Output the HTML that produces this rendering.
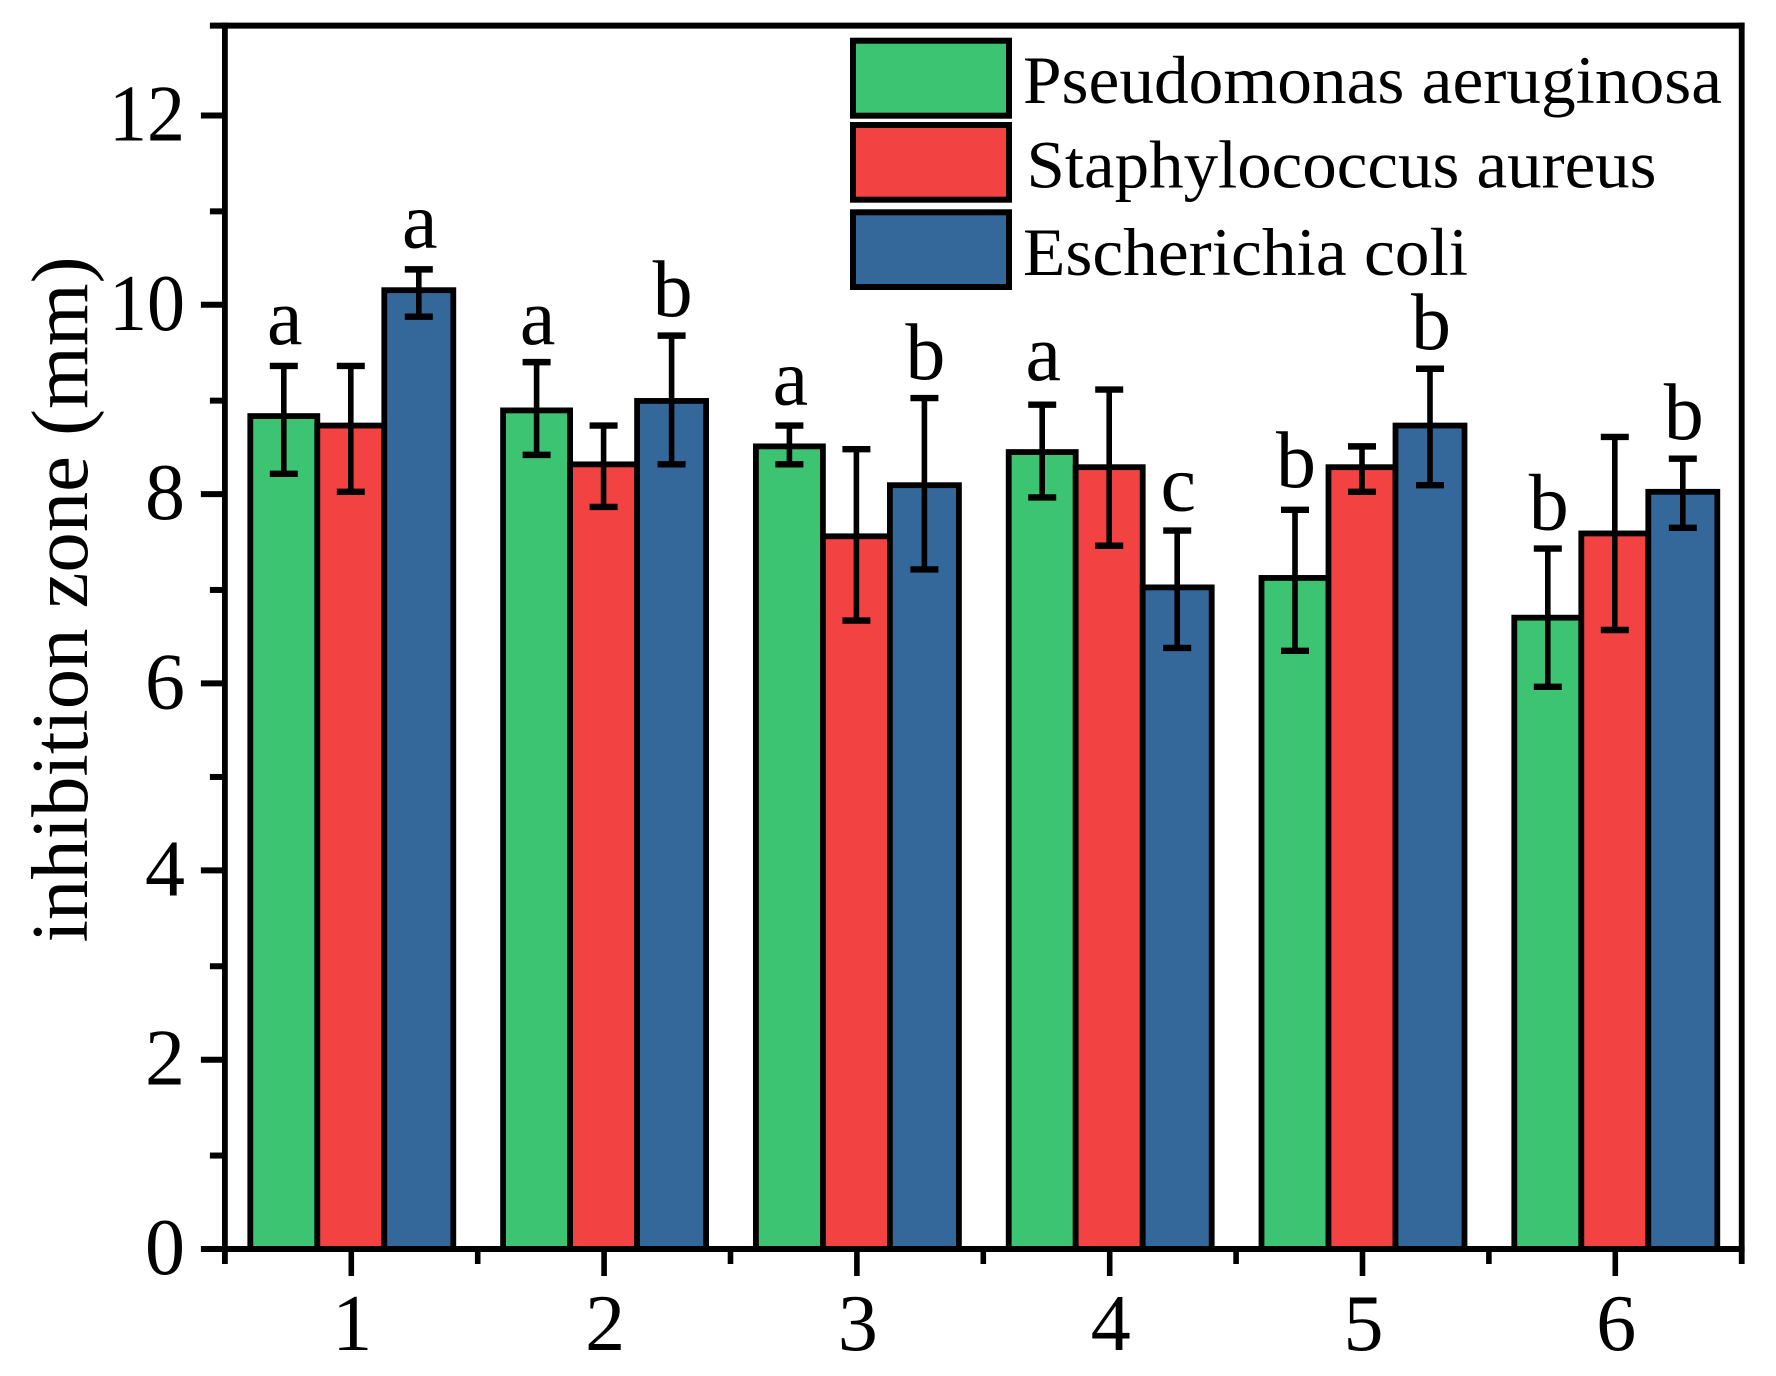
<!DOCTYPE html>
<html lang="en">
<head>
<meta charset="utf-8">
<title>Inhibition zone bar chart</title>
<style>
html,body{margin:0;padding:0;background:#fff;}
svg{display:block;}
text{font-family:"Liberation Serif",serif;fill:#000;}
</style>
</head>
<body>
<svg id="chart" xmlns="http://www.w3.org/2000/svg" width="1776" height="1376" viewBox="0 0 1776 1376">
  <rect x="0" y="0" width="1776" height="1376" fill="#fff"/>
  <g id="bars"></g>
  <g id="errors"></g>
  <g id="letters"></g>
  <g id="axes"></g>
  <text transform="translate(87,942.5) rotate(-90)" font-size="80" textLength="686" lengthAdjust="spacingAndGlyphs">inhibition zone (mm)</text>
  <g>
    <rect x="853" y="40.7" width="156" height="75" fill="#3CC472" stroke="#000" stroke-width="6"/>
    <text x="1023" y="103" font-size="68" textLength="699" lengthAdjust="spacingAndGlyphs">Pseudomonas aeruginosa</text>
    <rect x="853" y="125" width="156" height="74.700" fill="#F24242" stroke="#000" stroke-width="6"/>
    <text x="1026.500" y="187.700" font-size="68" textLength="630" lengthAdjust="spacingAndGlyphs">Staphylococcus aureus</text>
    <rect x="853" y="212.300" width="156" height="74.700" fill="#34689A" stroke="#000" stroke-width="6"/>
    <text x="1023" y="275" font-size="68" textLength="445" lengthAdjust="spacingAndGlyphs">Escherichia coli</text>
  </g>
</svg>
<script>
const categories = ['1', '2', '3', '4', '5', '6'];
const yTickLabels = [0, 2, 4, 6, 8, 10, 12];
const yMinorTicks = [1, 3, 5, 7, 9, 11];
const seriesNames = ['pseudomonas', 'staphylococcus', 'escherichia'];
const seriesColors = ['#3CC472', '#F24242', '#34689A'];

const pseudomonasValues = [8.80, 8.86, 8.48, 8.42, 7.09, 6.67];
const staphylococcusValues = [8.70, 8.29, 7.53, 8.26, 8.26, 7.56];
const escherichiaValues = [10.13, 8.96, 8.07, 6.99, 8.70, 8.00];

const pseudomonasUpper = [9.33, 9.37, 8.70, 8.92, 7.81, 7.40];
const staphylococcusUpper = [9.33, 8.70, 8.45, 9.08, 8.48, 8.58];
const escherichiaUpper = [10.35, 9.65, 8.99, 7.59, 9.30, 8.35];

const pseudomonasLower = [8.19, 8.39, 8.29, 7.94, 6.32, 5.94];
const staphylococcusLower = [8.00, 7.84, 6.64, 7.43, 8.00, 6.54];
const escherichiaLower = [9.85, 8.29, 7.18, 6.35, 8.07, 7.62];

const pseudomonasLetters = ['a', 'a', 'a', 'a', 'b', 'b'];
const escherichiaLetters = ['a', 'b', 'b', 'c', 'b', 'b'];
const pseudomonasLetterHeights = [9.56, 9.56, 8.92, 9.18, 8.05, 7.60];
const escherichiaLetterHeights = [10.58, 9.86, 9.19, 7.80, 9.51, 8.56];

const seriesValues = [pseudomonasValues, staphylococcusValues, escherichiaValues];
const seriesUpper = [pseudomonasUpper, staphylococcusUpper, escherichiaUpper];
const seriesLower = [pseudomonasLower, staphylococcusLower, escherichiaLower];

const NS = 'http://www.w3.org/2000/svg';
function xScale(v) { return 351.3 + 252.8 * (v - 1); }
function yScale(v) { return 1249 - 94.65 * v; }
function tickY(v) { return yScale(v) + (v > 5 ? 2.3 : 0); }
const yTopValue = 12.925;
const barEdges = [-101, -34, 33, 102];

function make(parent, tag, attrs, content) {
  const node = document.createElementNS(NS, tag);
  for (const key in attrs) node.setAttribute(key, attrs[key]);
  if (content !== undefined) node.textContent = content;
  parent.appendChild(node);
  return node;
}
function drawLine(parent, x1, y1, x2, y2, w) {
  return make(parent, 'line', { x1: x1, y1: y1, x2: x2, y2: y2, stroke: '#000', 'stroke-width': w });
}

const barsGroup = document.getElementById('bars');
const errorsGroup = document.getElementById('errors');
const lettersGroup = document.getElementById('letters');
const axesGroup = document.getElementById('axes');

seriesValues.forEach(function (values, s) {
  values.forEach(function (v, i) {
    const cx = xScale(i + 1);
    const left = cx + barEdges[s];
    const right = cx + barEdges[s + 1];
    const bar = make(barsGroup, 'rect', {
      x: left, y: yScale(v), width: right - left, height: yScale(0) - yScale(v),
      fill: seriesColors[s], stroke: '#000', 'stroke-width': 5.8
    });
    
    
  });
});

seriesValues.forEach(function (values, s) {
  values.forEach(function (v, i) {
    const cx = xScale(i + 1);
    const mid = cx + (barEdges[s] + barEdges[s + 1]) / 2;
    const up = yScale(seriesUpper[s][i]);
    const low = yScale(seriesLower[s][i]);
    const g = make(errorsGroup, 'g', {});
    
    
    drawLine(g, mid, up, mid, low, 5.6);
    drawLine(g, mid - 14, up, mid + 14, up, 6.4);
    drawLine(g, mid - 14, low, mid + 14, low, 6.4);
  });
});

function drawLetters(letters, heights, s) {
  letters.forEach(function (ch, i) {
    const cx = xScale(i + 1);
    const mid = cx + (barEdges[s] + barEdges[s + 1]) / 2;
    const t = make(lettersGroup, 'text', {
      x: mid + 1, y: yScale(heights[i]), 'font-size': 80, 'text-anchor': 'middle'
    }, ch);
    
    
  });
}
drawLetters(pseudomonasLetters, pseudomonasLetterHeights, 0);
drawLetters(escherichiaLetters, escherichiaLetterHeights, 2);

const axisLeft = xScale(0.5);
const axisRight = xScale(6.5);
const axisBottom = yScale(0);
const axisTop = yScale(yTopValue);

const frame = make(axesGroup, 'g', {});


drawLine(frame, axisLeft, axisTop - 3, axisLeft, axisBottom + 15, 5.8);
drawLine(frame, axisRight, axisTop - 3, axisRight, axisBottom + 15, 5.8);
drawLine(frame, axisLeft - 15, axisTop, axisRight + 2.9, axisTop, 6);
drawLine(frame, axisLeft - 24, axisBottom, axisRight + 2.9, axisBottom, 6);

yTickLabels.forEach(function (v) {
  if (v !== 0) {
    const tick = drawLine(axesGroup, axisLeft - 24, tickY(v), axisLeft, tickY(v), 6);
    
    
  }
  const label = make(axesGroup, 'text', {
    x: 185, y: tickY(v) + 25, 'font-size': 80, 'text-anchor': 'end'
  }, String(v));
  if (String(v).length === 2) {
    label.setAttribute('textLength', 76);
    label.setAttribute('lengthAdjust', 'spacingAndGlyphs');
  }
  
  
});

yMinorTicks.forEach(function (v) {
  const tick = drawLine(axesGroup, axisLeft - 15, tickY(v) + 1.2, axisLeft, tickY(v) + 1.2, 6);
  
  
});

categories.forEach(function (c, i) {
  const x = xScale(i + 1);
  const tick = drawLine(axesGroup, x, axisBottom, x, axisBottom + 27, 5.6);
  
  
  const label = make(axesGroup, 'text', {
    x: x + 1, y: 1350, 'font-size': 80, 'text-anchor': 'middle'
  }, c);
  
  
  if (i < categories.length - 1) {
    const mx = xScale(i + 1.5);
    const minor = drawLine(axesGroup, mx, axisBottom, mx, axisBottom + 15, 5.6);
    
    
  }
});
</script>
</body>
</html>
